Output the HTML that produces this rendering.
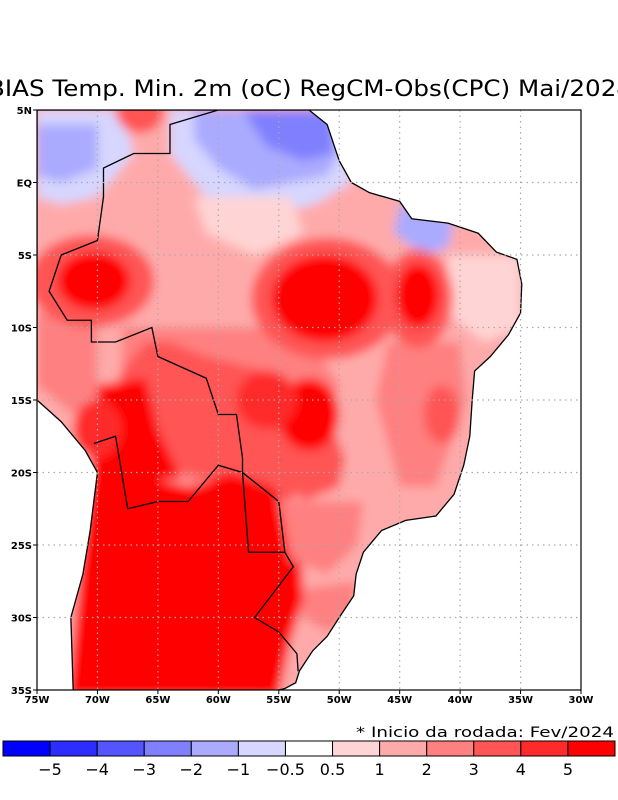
<!DOCTYPE html>
<html><head><meta charset="utf-8"><style>
html,body{margin:0;padding:0;background:#fff;}
body{width:618px;height:800px;overflow:hidden;position:relative;font-family:"DejaVu Sans","Liberation Sans",sans-serif;}
svg{position:absolute;left:0;top:0;}
</style></head><body>
<svg id="chart" width="618" height="800" viewBox="0 0 618 800">
<defs>
<clipPath id="frameClip"><rect x="37" y="110" width="544" height="580"/></clipPath>
<filter id="soft" x="-5%" y="-5%" width="110%" height="110%"><feGaussianBlur stdDeviation="5"/></filter>
</defs>
<text x="-12" y="96" font-size="22" textLength="644" lengthAdjust="spacingAndGlyphs" font-family="DejaVu Sans, sans-serif" fill="#000">BIAS Temp. Min. 2m (oC) RegCM-Obs(CPC) Mai/2024</text>
<g id="mapLayer" clip-path="url(#frameClip)"></g>
<g id="gridLayer"></g>
<rect x="37" y="110" width="544" height="580" fill="none" stroke="#000" stroke-width="1.2"/>
<g id="axisLayer"></g>
<text x="356" y="737" font-size="14.5" textLength="258" lengthAdjust="spacingAndGlyphs" fill="#000">* Inicio da rodada: Fev/2024</text>
<g id="cbarLayer"></g>
</svg>
<script>
const levels = [-5,-4,-3,-2,-1,-0.5,0.5,1,2,3,4,5];
const levelLabels = ["−5","−4","−3","−2","−1","−0.5","0.5","1","2","3","4","5"];
const levelColors = ["#0000ff","#2d2dff","#5555ff","#8080ff","#aaaaff","#d6d6ff","#ffffff","#ffd4d4","#ffaaaa","#ff8080","#ff5555","#ff2a2a","#ff0000"];
const latTicks = [5,0,-5,-10,-15,-20,-25,-30,-35];
const latLabels = ["5N","EQ","5S","10S","15S","20S","25S","30S","35S"];
const lonTicks = [-75,-70,-65,-60,-55,-50,-45,-40,-35,-30];
const lonLabels = ["75W","70W","65W","60W","55W","50W","45W","40W","35W","30W"];
const landLon = [-75,-52.5,-51,-50,-49,-47.5,-45,-44,-41,-38.5,-37,-35.3,-34.9,-35,-36,-37.5,-38.8,-39,-39.2,-39.7,-40.5,-42,-44.5,-46.5,-48,-48.6,-48.8,-50,-51,-52.2,-53.3,-53.6,-54.5,-56,-72,-72.2,-71.2,-70.6,-70.3,-70,-71,-73,-75];
const landLat = [5,5,4,1.5,0,-0.7,-1.3,-2.5,-2.8,-3.5,-4.8,-5.3,-7,-9,-10.5,-12,-13,-15,-17.5,-19.5,-21.5,-23,-23.3,-24,-25.5,-27,-28.5,-30,-31.3,-32.3,-33.7,-34.5,-34.9,-35.2,-35.2,-30,-27,-24,-22,-20,-18.5,-16.5,-15];
const regionValues = [1.5,-0.7,-1.5,-2.5,-0.7,-1.5,-1.5,0.7,2.5,3.5,5.5,5.5,3.5,2.5,2.5,2.5,0.7,2.5];
const regionLons = [
 [-66,-56,-52,-55,-60,-65],
 [-64,-50,-49,-52,-57,-61,-64],
 [-62,-50.5,-50,-51,-54,-57,-60,-62],
 [-58,-50.5,-50.5,-53,-56],
 [-75,-68,-67,-70,-73,-75],
 [-75,-70,-70,-73,-75],
 [-45,-40.5,-41,-43,-45.5],
 [-62,-54,-53,-57,-61],
 [-68,-53,-50,-52,-56,-62,-68],
 [-68,-66,-64,-61,-56,-53,-51,-54,-58,-63,-70],
 [-70.5,-66,-65,-63,-70.5],
 [-70.5,-65,-62,-59,-55.5,-54,-53.5,-53,-53,-54,-55,-72.5,-71.5],
 [-56,-51,-49.5,-50,-53],
 [-55,-48,-48.5,-51,-54],
 [-53,-48.5,-49,-51,-53],
 [-46,-40,-39.5,-42,-45,-47],
 [-41,-35,-35,-38,-41],
 [-75,-70,-70,-72,-75]
];
const regionLats = [
 [-2,-2,-6,-9,-9,-6],
 [5,5,0,-1.5,-2.5,-1,2],
 [5,5,2,0.5,0,-0.5,1,3],
 [5,5,2,1.5,2.5],
 [5,5,2,-1,-1.5,-1],
 [4,4,1,0,0.5],
 [-1.5,-2.5,-4.5,-5,-3.5],
 [-1,-1,-3.5,-5,-3.5],
 [-10,-10,-14,-19,-21,-21,-17],
 [-13,-11,-11,-12,-13,-15,-19,-22,-21,-20,-18],
 [-14,-13.5,-17,-20.5,-20.5],
 [-20,-20.5,-21,-20,-21,-23,-25,-27,-29,-31.5,-35.5,-35.5,-27],
 [-17.5,-16,-19,-21,-22],
 [-22,-22,-25,-27,-26],
 [-28,-27.5,-30,-31,-30],
 [-11,-11,-15,-21,-21,-15],
 [-5,-5,-10,-11,-9],
 [-9,-9,-15,-16,-14]
];
const blobValues = [3.5,5.5,3.5,5.5,3.5,5.5,5.5,3.5,4.5,3.5,4.5];
const blobLon = [-70.5,-70.3,-51,-51.2,-43.5,-43.5,-52.5,-66.5,-70,-41.5,-56];
const blobLat = [-6.8,-6.8,-8,-8,-8,-7.8,-16,5,-17,-16,-15];
const blobRx = [5.2,3,6.3,4.4,2.9,1.8,2.5,2,2,1.5,2.5];
const blobRy = [3.2,2,4.2,3,3.4,2.2,2.5,1.6,2,2,2];
const borderLon = [-60,-64,-64,-67,-69.5,-69.5,-70,-73,-74,-72.5,-70.5,-70.5,-68.5,-65.5,-65,-61,-60,-58.5,-58,-58,-55,-54.5,-53.8,-57,-55,-53.5,-53.4];
const borderLat = [5,4,2,2,1,-1,-4,-5,-7.5,-9.5,-9.5,-11,-11,-10,-12,-13.5,-16,-16,-19,-20,-22,-25.5,-26.5,-30,-31,-32.5,-33.7];
const border2Lon = [-70.3,-68.5,-67.5,-65,-62.5,-60,-58,-57.5,-54.5];
const border2Lat = [-18,-17.5,-22.5,-22,-22,-19.5,-20,-25.5,-25.5];

const X0=37,X1=581,Y0=110,Y1=690;
function xLon(lon){return X0+(lon+75)/45*(X1-X0);}
function yLat(lat){return Y0+(5-lat)/40*(Y1-Y0);}
function colorOf(v){let i=0;while(i<levels.length&&v>levels[i])i++;return levelColors[i];}
const NS="http://www.w3.org/2000/svg";
function mk(tag,attrs,parent){const e=document.createElementNS(NS,tag);for(const k in attrs)e.setAttribute(k,attrs[k]);parent.appendChild(e);return e;}
const map=document.getElementById('mapLayer');
const landPts=landLon.map((l,i)=>xLon(l)+","+yLat(landLat[i])).join(" ");
const defs=document.querySelector('defs');
const lc=mk('clipPath',{id:'landClip'},defs);
mk('polygon',{points:landPts},lc);
const landG=mk('g',{'clip-path':'url(#landClip)'},map);
const inner=mk('g',{filter:'url(#soft)'},landG);
const base=mk('rect',{x:30,y:100,width:560,height:600,fill:colorOf(1.5)},inner);


regionValues.forEach((v,i)=>{
 const p=regionLons[i].map((l,j)=>xLon(l)+","+yLat(regionLats[i][j])).join(" ");
 const el=mk('polygon',{points:p,fill:colorOf(v)},inner);
 
 
});
blobValues.forEach((v,i)=>{
 const el=mk('ellipse',{cx:xLon(blobLon[i]),cy:yLat(blobLat[i]),rx:blobRx[i]*544/45,ry:blobRy[i]*580/40,fill:colorOf(v)},inner);
 
 
});
const coast=mk('polygon',{points:landPts,fill:'none',stroke:'#000','stroke-width':1.3},map);


const b1=mk('polyline',{points:borderLon.map((l,i)=>xLon(l)+","+yLat(borderLat[i])).join(" "),fill:'none',stroke:'#000','stroke-width':1.3},map);


const b2=mk('polyline',{points:border2Lon.map((l,i)=>xLon(l)+","+yLat(border2Lat[i])).join(" "),fill:'none',stroke:'#000','stroke-width':1.3},map);


const grid=document.getElementById('gridLayer');
const axis=document.getElementById('axisLayer');
latTicks.forEach((t,i)=>{
 const y=yLat(t);
 if(i>0&&i<latTicks.length-1){const g=mk('line',{x1:X0,x2:X1,y1:y,y2:y,stroke:'#aaa','stroke-width':1.2,'stroke-dasharray':'1.5 4'},grid);
 }
 mk('line',{x1:X0-4,x2:X0,y1:y,y2:y,stroke:'#000'},axis);
 const tx=mk('text',{x:X0-5,y:y+4,'font-size':10,'font-weight':'bold','text-anchor':'end'},axis);
 tx.textContent=latLabels[i];
 
 
});
lonTicks.forEach((t,i)=>{
 const x=xLon(t);
 if(i>0&&i<lonTicks.length-1){const g=mk('line',{x1:x,x2:x,y1:Y0,y2:Y1,stroke:'#aaa','stroke-width':1.2,'stroke-dasharray':'1.5 4'},grid);
 }
 mk('line',{x1:x,x2:x,y1:Y1,y2:Y1+4,stroke:'#000'},axis);
 const tx=mk('text',{x:x,y:Y1+13,'font-size':10,'font-weight':'bold','text-anchor':'middle'},axis);
 tx.textContent=lonLabels[i];
 
 
});
const cb=document.getElementById('cbarLayer');
const cbX0=3,cbX1=615,cbW=(cbX1-cbX0)/levelColors.length;
levelColors.forEach((c,i)=>{
 const r=mk('rect',{x:cbX0+i*cbW,y:741,width:cbW,height:15,fill:c,stroke:'#000','stroke-width':1},cb);
 
 
});
levelLabels.forEach((l,i)=>{
 const tx=mk('text',{x:cbX0+(i+1)*cbW,y:775,'font-size':16,'text-anchor':'middle'},cb);
 tx.textContent=l;
 
 
});
</script>
</body></html>
